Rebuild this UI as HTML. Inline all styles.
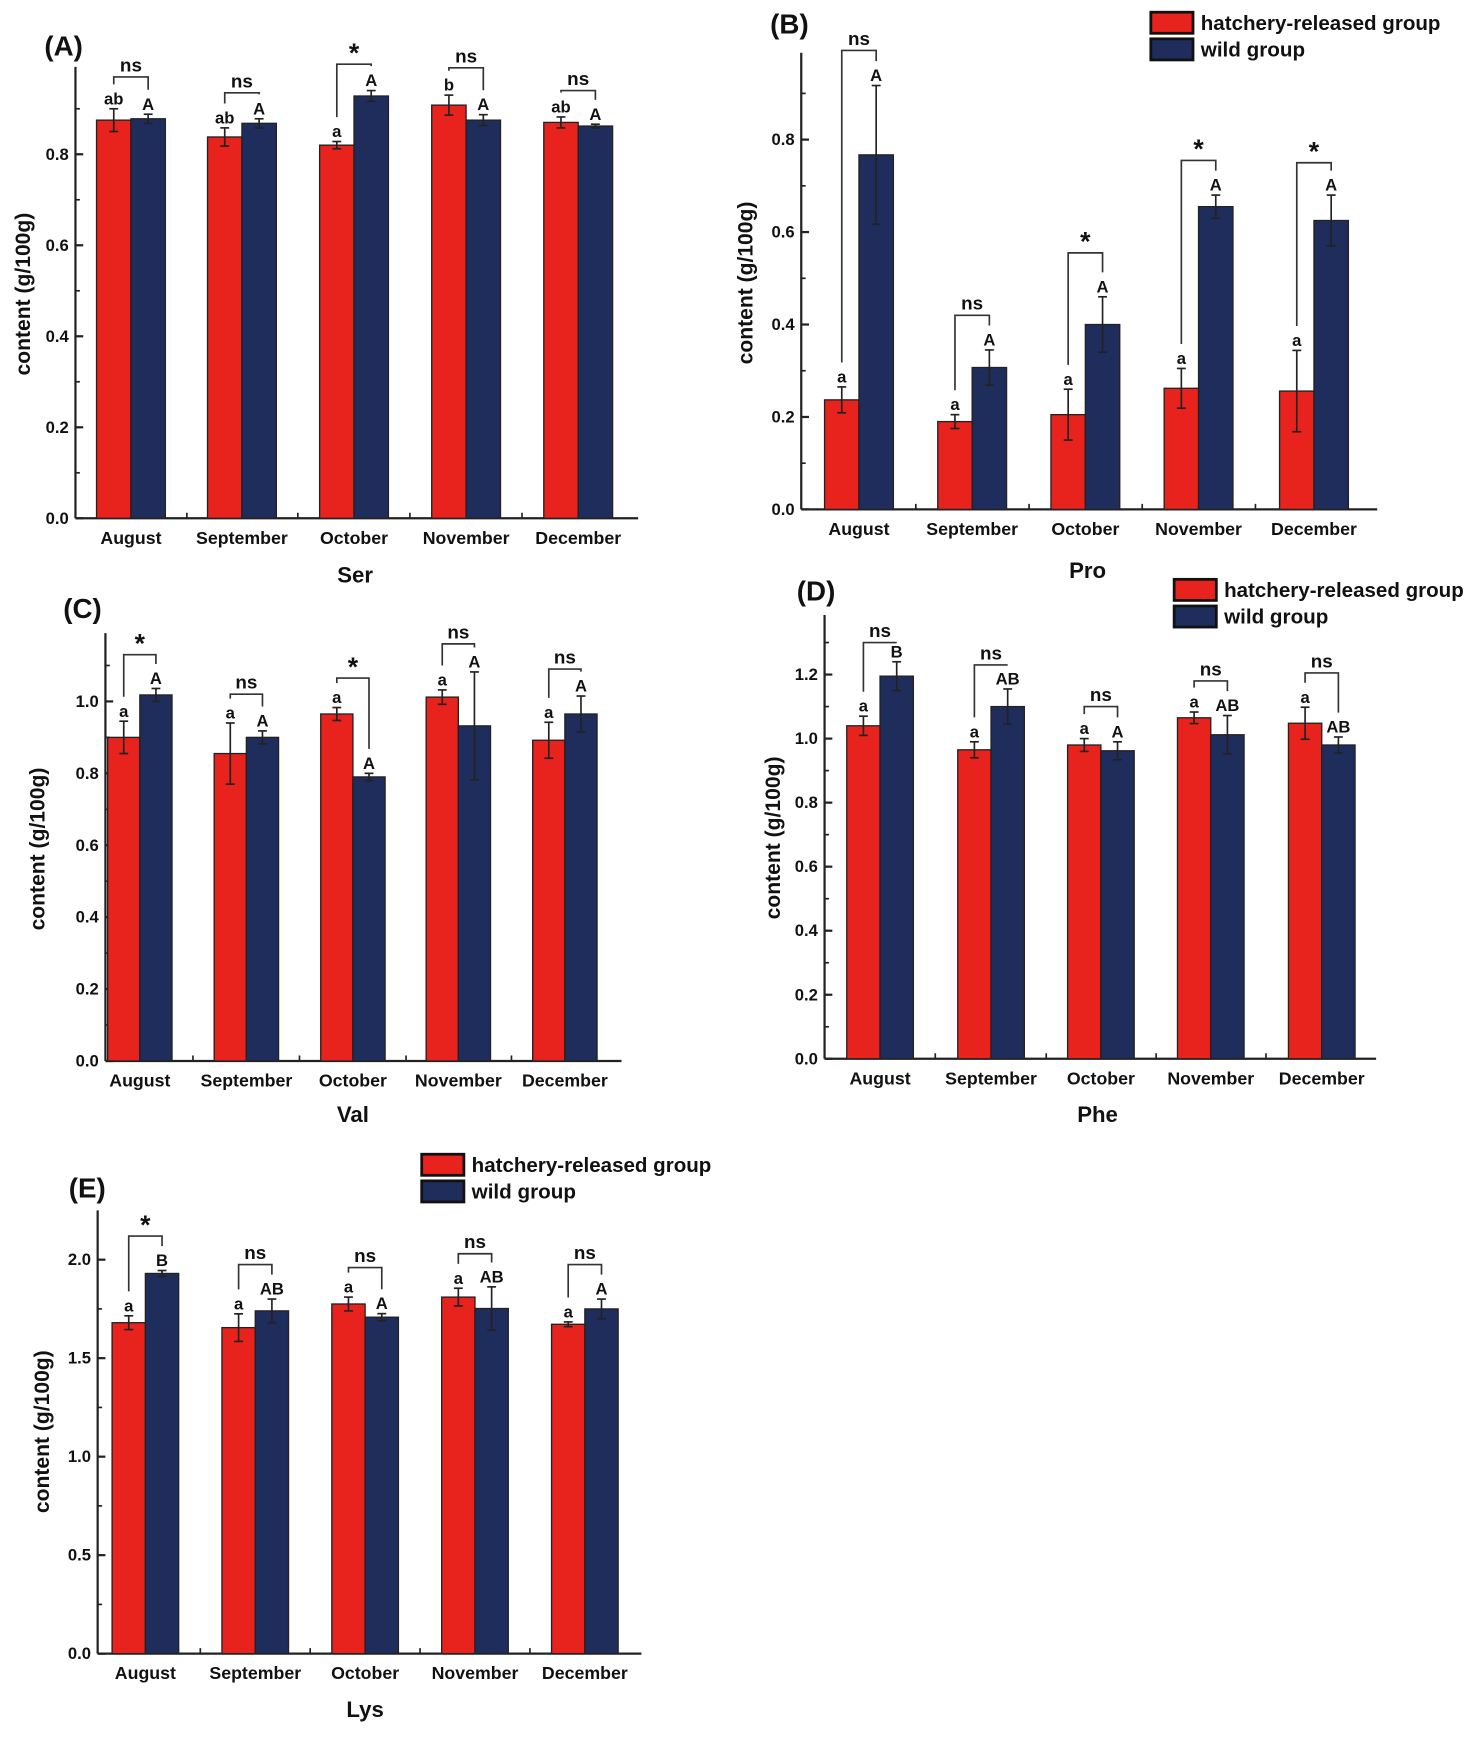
<!DOCTYPE html>
<html><head><meta charset="utf-8"><style>
html,body{margin:0;padding:0;background:#fff}
svg{display:block}
text{font-family:"Liberation Sans",sans-serif;font-weight:bold;fill:#111}
</style></head><body>
<svg id="fig" width="1476" height="1748" viewBox="0 0 1330 1575" preserveAspectRatio="none" xmlns="http://www.w3.org/2000/svg"></svg>
<script>
const months = ["August","September","October","November","December"];
// Panel A (Ser)
const serRed = [0.875,0.838,0.82,0.908,0.87];
const serRedErr = [0.025,0.02,0.008,0.022,0.012];
const serBlue = [0.878,0.868,0.928,0.875,0.862];
const serBlueErr = [0.01,0.01,0.012,0.012,0.004];
const serRedLbl = ["ab","ab","a","b","ab"];
const serBlueLbl = ["A","A","A","A","A"];
const serSig = ["ns","ns","*","ns","ns"];
const serBracket = [0.97,0.935,0.998,0.99,0.94];
const serTicks = [0,0.2,0.4,0.6,0.8];
// Panel B (Pro)
const proRed = [0.237,0.19,0.205,0.262,0.256];
const proRedErr = [0.028,0.015,0.055,0.043,0.088];
const proBlue = [0.767,0.307,0.4,0.655,0.625];
const proBlueErr = [0.15,0.038,0.06,0.025,0.055];
const proRedLbl = ["a","a","a","a","a"];
const proBlueLbl = ["A","A","A","A","A"];
const proSig = ["ns","ns","*","*","*"];
const proBracket = [0.993,0.42,0.555,0.755,0.75];
const proTicks = [0,0.2,0.4,0.6,0.8];
// Panel C (Val)
const valRed = [0.9,0.855,0.965,1.012,0.892];
const valRedErr = [0.045,0.085,0.018,0.02,0.05];
const valBlue = [1.018,0.9,0.79,0.932,0.965];
const valBlueErr = [0.018,0.018,0.01,0.15,0.05];
const valRedLbl = ["a","a","a","a","a"];
const valBlueLbl = ["A","A","A","A","A"];
const valSig = ["*","ns","*","ns","ns"];
const valBracket = [1.13,1.02,1.065,1.16,1.09];
const valTicks = [0,0.2,0.4,0.6,0.8,1.0];
// Panel D (Phe)
const pheRed = [1.04,0.965,0.98,1.065,1.048];
const pheRedErr = [0.03,0.025,0.02,0.018,0.05];
const pheBlue = [1.195,1.1,0.962,1.012,0.98];
const pheBlueErr = [0.045,0.055,0.028,0.06,0.025];
const pheRedLbl = ["a","a","a","a","a"];
const pheBlueLbl = ["B","AB","A","AB","AB"];
const pheSig = ["ns","ns","ns","ns","ns"];
const pheBracket = [1.3,1.23,1.1,1.18,1.205];
const pheTicks = [0,0.2,0.4,0.6,0.8,1.0,1.2];
// Panel E (Lys)
const lysRed = [1.68,1.655,1.775,1.81,1.672];
const lysRedErr = [0.035,0.07,0.035,0.045,0.012];
const lysBlue = [1.93,1.74,1.708,1.752,1.75];
const lysBlueErr = [0.015,0.06,0.018,0.11,0.05];
const lysRedLbl = ["a","a","a","a","a"];
const lysBlueLbl = ["B","AB","A","AB","A"];
const lysSig = ["*","ns","ns","ns","ns"];
const lysBracket = [2.12,1.975,1.96,2.03,1.975];
const lysTicks = [0,0.5,1.0,1.5,2.0];

const NS="http://www.w3.org/2000/svg";
const svg=document.getElementById('fig');
function mk(tag,attrs,parent,txt){const e=document.createElementNS(NS,tag);for(const k in attrs)e.setAttribute(k,attrs[k]);if(txt!==undefined)e.textContent=txt;(parent||svg).appendChild(e);return e;}

function panel(cfg){
  const g=mk('g',{});
  
  
  const y=v=>cfg.y0-(v/cfg.unit)*cfg.px;
  const x0=cfg.ax, x1=cfg.axEnd;
  const yl=mk('line',{x1:x0,y1:y(cfg.max),x2:x0,y2:cfg.y0,stroke:'#222','stroke-width':2},g);
  
  
  const xl=mk('line',{x1:x0,y1:cfg.y0,x2:x1,y2:cfg.y0,stroke:'#222','stroke-width':2},g);
  
  
  for(let v=cfg.minor;v<cfg.max;v+=cfg.minor){mk('line',{x1:x0,y1:y(v),x2:x0+4,y2:y(v),stroke:'#222','stroke-width':1.5},g);}
  cfg.ticks.forEach(t=>{
    mk('line',{x1:x0,y1:y(t),x2:x0+7,y2:y(t),stroke:'#222','stroke-width':2},g);
    const tl=mk('text',{x:x0-6,y:y(t)+5,'text-anchor':'end','font-size':15},g,t.toFixed(1));
    
    
  });
  const step=(cfg.centers[4]-cfg.centers[0])/4;
  for(let i=0;i<4;i++){const xm=cfg.centers[i]+step/2;mk('line',{x1:xm,y1:cfg.y0,x2:xm,y2:cfg.y0-5,stroke:'#222','stroke-width':1.5},g);}
  const bw=cfg.bw;
  months.forEach((m,i)=>{
    const c=cfg.centers[i];
    const rv=cfg.red[i], bv=cfg.blue[i];
    const rb=mk('rect',{x:c-bw,y:y(rv),width:bw,height:cfg.y0-y(rv),fill:'#e8221c',stroke:'#222','stroke-width':1.2},g);
    
    
    const bb=mk('rect',{x:c,y:y(bv),width:bw,height:cfg.y0-y(bv),fill:'#1f2d5c',stroke:'#222','stroke-width':1.2},g);
    
    
    [[c-bw/2,rv,cfg.redErr[i]],[c+bw/2,bv,cfg.blueErr[i]]].forEach(([xc,v,e])=>{
      mk('line',{x1:xc,y1:y(v+e),x2:xc,y2:y(v-e),stroke:'#222','stroke-width':1.5},g);
      mk('line',{x1:xc-4,y1:y(v+e),x2:xc+4,y2:y(v+e),stroke:'#222','stroke-width':1.5},g);
      mk('line',{x1:xc-4,y1:y(v-e),x2:xc+4,y2:y(v-e),stroke:'#222','stroke-width':1.5},g);
    });
    const rTop=y(rv+cfg.redErr[i]), bTop=y(bv+cfg.blueErr[i]);
    const l1=mk('text',{x:c-bw/2,y:rTop-4,'text-anchor':'middle','font-size':15},g,cfg.redLbl[i]);
    
    
    const l2=mk('text',{x:c+bw/2,y:bTop-4,'text-anchor':'middle','font-size':15},g,cfg.blueLbl[i]);
    
    
    const by=y(cfg.bracket[i]);
    mk('polyline',{points:`${c-bw/2},${Math.max(by,rTop-22)} ${c-bw/2},${by} ${c+bw/2},${by} ${c+bw/2},${Math.max(by,bTop-22)}`,fill:'none',stroke:'#333','stroke-width':1.5},g);
    const s=cfg.sig[i];
    const st=mk('text',{x:c,y:s==='*'?by-2:by-5,'text-anchor':'middle','font-size':s==='*'?24:17},g,s);
    
    
    const ml=mk('text',{x:c,y:cfg.y0+23,'text-anchor':'middle','font-size':16},g,m);
    
    
  });
  const xt=mk('text',{x:cfg.titleX,y:cfg.titleY,'text-anchor':'middle','font-size':20},g,cfg.title);
  
  
  const yt=mk('text',{x:0,y:0,'text-anchor':'middle','font-size':19,transform:`translate(${cfg.ytX},${cfg.ytY}) rotate(-90)`},g,'content (g/100g)');
  
  
  const pl=mk('text',{x:cfg.plX,y:cfg.plY,'font-size':25},g,'('+cfg.id+')');
  
  
  if(cfg.legend){
    const [lx,ly]=cfg.legend;
    const lg=mk('g',{},g);
    
    
    mk('rect',{x:lx,y:ly,width:38,height:19,fill:'#e8221c',stroke:'#111','stroke-width':2.5},lg);
    mk('rect',{x:lx,y:ly+24,width:38,height:19,fill:'#1f2d5c',stroke:'#111','stroke-width':2.5},lg);
    const t1=mk('text',{x:lx+45,y:ly+16,'font-size':18,textLength:216,lengthAdjust:'spacingAndGlyphs'},lg,'hatchery-released group');
    
    
    const t2=mk('text',{x:lx+45,y:ly+40,'font-size':18,textLength:94,lengthAdjust:'spacingAndGlyphs'},lg,'wild group');
    
    
  }
}

panel({id:'A',ax:68,axEnd:575,y0:467,unit:0.2,px:82,max:0.992,minor:0.1,ticks:serTicks,bw:31,
  centers:[118,218,319,420,521],red:serRed,redErr:serRedErr,blue:serBlue,blueErr:serBlueErr,
  redLbl:serRedLbl,blueLbl:serBlueLbl,sig:serSig,bracket:serBracket,title:'Ser',titleX:320,titleY:525,
  ytX:27,ytY:265,plX:40,plY:50});
panel({id:'B',ax:722,axEnd:1241,y0:459,unit:0.2,px:83.3,max:0.988,minor:0.1,ticks:proTicks,bw:31,
  centers:[774,876,978,1080,1184],red:proRed,redErr:proRedErr,blue:proBlue,blueErr:proBlueErr,
  redLbl:proRedLbl,blueLbl:proBlueLbl,sig:proSig,bracket:proBracket,title:'Pro',titleX:980,titleY:521,
  ytX:678,ytY:255,plX:694,plY:30,legend:[1037,11]});
panel({id:'C',ax:95,axEnd:560,y0:956,unit:0.2,px:64.8,max:1.19,minor:0.1,ticks:valTicks,bw:29,
  centers:[126,222,318,413,509],red:valRed,redErr:valRedErr,blue:valBlue,blueErr:valBlueErr,
  redLbl:valRedLbl,blueLbl:valBlueLbl,sig:valSig,bracket:valBracket,title:'Val',titleX:318,titleY:1011,
  ytX:40,ytY:765,plX:57,plY:557});
panel({id:'D',ax:743,axEnd:1240,y0:954,unit:0.2,px:57.7,max:1.386,minor:0.1,ticks:pheTicks,bw:30,
  centers:[793,893,992,1091,1191],red:pheRed,redErr:pheRedErr,blue:pheBlue,blueErr:pheBlueErr,
  redLbl:pheRedLbl,blueLbl:pheBlueLbl,sig:pheSig,bracket:pheBracket,title:'Phe',titleX:989,titleY:1011,
  ytX:703,ytY:755,plX:718,plY:541,legend:[1058,522]});
panel({id:'E',ax:88,axEnd:578,y0:1490,unit:0.5,px:88.75,max:2.25,minor:0.25,ticks:lysTicks,bw:30,
  centers:[131,230,329,428,527],red:lysRed,redErr:lysRedErr,blue:lysBlue,blueErr:lysBlueErr,
  redLbl:lysRedLbl,blueLbl:lysBlueLbl,sig:lysSig,bracket:lysBracket,title:'Lys',titleX:329,titleY:1547,
  ytX:44,ytY:1290,plX:62,plY:1079,legend:[380,1040]});
</script>
</body></html>
